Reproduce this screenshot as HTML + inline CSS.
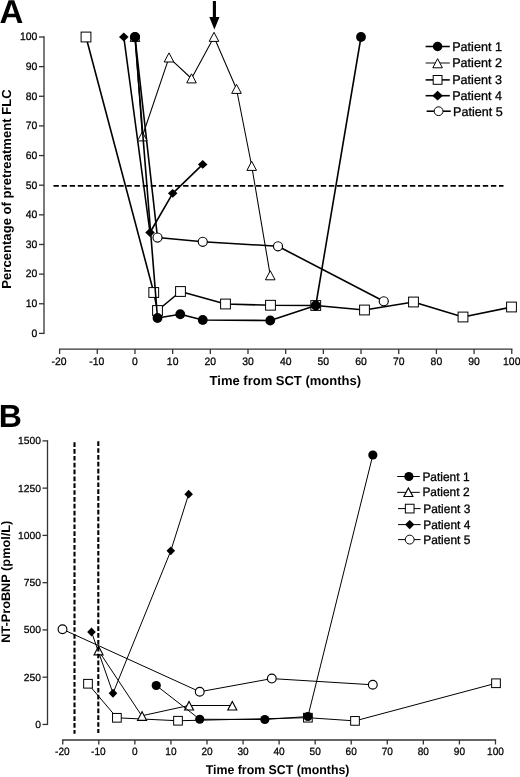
<!DOCTYPE html>
<html><head><meta charset="utf-8"><title>Figure</title>
<style>
html,body{margin:0;padding:0;background:#fff;}
body{width:520px;height:777px;overflow:hidden;font-family:"Liberation Sans",sans-serif;}
svg{display:block;position:absolute;left:0;top:0;will-change:transform;}
text{text-rendering:geometricPrecision;}
text{font-family:"Liberation Sans",sans-serif;fill:#000;}
.tk{font-size:10.4px;stroke:#000;stroke-width:0.25px;}
.lg{font-size:12.6px;stroke:#000;stroke-width:0.3px;}
.lgb{font-size:11.95px;stroke:#000;stroke-width:0.3px;}
.al{font-size:13.1px;font-weight:bold;}
.alb{font-size:12.35px;font-weight:bold;}
.pl{font-size:32px;font-weight:bold;}
</style></head><body>
<svg width="520" height="777" viewBox="0 0 520 777">
<rect width="520" height="777" fill="#fff"/>
<text class="pl" style="font-size:33px" x="-0.5" y="22.7">A</text>
<g stroke="#333" stroke-width="1.3" fill="none">
<path d="M44.0 36.35V334.04999999999995"/>
<path d="M39.0 333.40H44.0"/>
<path d="M39.0 303.76H44.0"/>
<path d="M39.0 274.12H44.0"/>
<path d="M39.0 244.48H44.0"/>
<path d="M39.0 214.84H44.0"/>
<path d="M39.0 185.20H44.0"/>
<path d="M39.0 155.56H44.0"/>
<path d="M39.0 125.92H44.0"/>
<path d="M39.0 96.28H44.0"/>
<path d="M39.0 66.64H44.0"/>
<path d="M39.0 37.00H44.0"/>
<path d="M58.95 349.1H512.41"/>
<path d="M59.60 349.1V354.0"/>
<path d="M97.28 349.1V354.0"/>
<path d="M134.96 349.1V354.0"/>
<path d="M172.64 349.1V354.0"/>
<path d="M210.32 349.1V354.0"/>
<path d="M248.00 349.1V354.0"/>
<path d="M285.68 349.1V354.0"/>
<path d="M323.36 349.1V354.0"/>
<path d="M361.04 349.1V354.0"/>
<path d="M398.72 349.1V354.0"/>
<path d="M436.40 349.1V354.0"/>
<path d="M474.08 349.1V354.0"/>
<path d="M511.76 349.1V354.0"/>
</g>
<text class="tk" transform="translate(37.3 336.75) scale(1 1.04)" text-anchor="end">0</text>
<text class="tk" transform="translate(37.3 307.11) scale(1 1.04)" text-anchor="end">10</text>
<text class="tk" transform="translate(37.3 277.47) scale(1 1.04)" text-anchor="end">20</text>
<text class="tk" transform="translate(37.3 247.83) scale(1 1.04)" text-anchor="end">30</text>
<text class="tk" transform="translate(37.3 218.19) scale(1 1.04)" text-anchor="end">40</text>
<text class="tk" transform="translate(37.3 188.55) scale(1 1.04)" text-anchor="end">50</text>
<text class="tk" transform="translate(37.3 158.91) scale(1 1.04)" text-anchor="end">60</text>
<text class="tk" transform="translate(37.3 129.27) scale(1 1.04)" text-anchor="end">70</text>
<text class="tk" transform="translate(37.3 99.63) scale(1 1.04)" text-anchor="end">80</text>
<text class="tk" transform="translate(37.3 69.99) scale(1 1.04)" text-anchor="end">90</text>
<text class="tk" transform="translate(37.3 40.35) scale(1 1.04)" text-anchor="end">100</text>
<text class="tk" transform="translate(59.10 365.3) scale(1 1.04)" text-anchor="middle">-20</text>
<text class="tk" transform="translate(96.78 365.3) scale(1 1.04)" text-anchor="middle">-10</text>
<text class="tk" transform="translate(134.96 365.3) scale(1 1.04)" text-anchor="middle">0</text>
<text class="tk" transform="translate(172.64 365.3) scale(1 1.04)" text-anchor="middle">10</text>
<text class="tk" transform="translate(210.32 365.3) scale(1 1.04)" text-anchor="middle">20</text>
<text class="tk" transform="translate(248.00 365.3) scale(1 1.04)" text-anchor="middle">30</text>
<text class="tk" transform="translate(285.68 365.3) scale(1 1.04)" text-anchor="middle">40</text>
<text class="tk" transform="translate(323.36 365.3) scale(1 1.04)" text-anchor="middle">50</text>
<text class="tk" transform="translate(361.04 365.3) scale(1 1.04)" text-anchor="middle">60</text>
<text class="tk" transform="translate(398.72 365.3) scale(1 1.04)" text-anchor="middle">70</text>
<text class="tk" transform="translate(436.40 365.3) scale(1 1.04)" text-anchor="middle">80</text>
<text class="tk" transform="translate(474.08 365.3) scale(1 1.04)" text-anchor="middle">90</text>
<text class="tk" transform="translate(511.76 365.3) scale(1 1.04)" text-anchor="middle">100</text>
<text class="al" transform="translate(11.1 189) rotate(-90)" text-anchor="middle">Percentage of pretreatment FLC</text>
<text class="al" style="font-size:13px" x="209.6" y="384.7">Time from SCT (months)</text>
<path d="M53.5 185.8H503.5" stroke="#000" stroke-width="1.7" stroke-dasharray="5.4 2.7" fill="none"/>
<path d="M212.85 1H215.95V17H219.5L214.4 29.4L209.3 17H212.85Z" fill="#000"/>
<polyline points="135,37 157.5,237.5 202.75,241.75 278,246.25 383.75,301.25" fill="none" stroke="#000" stroke-width="1.6" stroke-linejoin="round"/>
<circle cx="135" cy="37" r="4.55" fill="#fff" stroke="#000" stroke-width="1.15"/>
<circle cx="157.5" cy="237.5" r="4.55" fill="#fff" stroke="#000" stroke-width="1.15"/>
<circle cx="202.75" cy="241.75" r="4.55" fill="#fff" stroke="#000" stroke-width="1.15"/>
<circle cx="278" cy="246.25" r="4.55" fill="#fff" stroke="#000" stroke-width="1.15"/>
<circle cx="383.75" cy="301.25" r="4.55" fill="#fff" stroke="#000" stroke-width="1.15"/>
<polyline points="123.8,37 150,232.5 172.7,193.3 202.7,164.4" fill="none" stroke="#000" stroke-width="1.6" stroke-linejoin="round"/>
<path d="M119.00 37L123.8 32.60L128.60 37L123.8 41.40Z" fill="#000"/>
<path d="M145.20 232.5L150 228.10L154.80 232.5L150 236.90Z" fill="#000"/>
<path d="M167.90 193.3L172.7 188.90L177.50 193.3L172.7 197.70Z" fill="#000"/>
<path d="M197.90 164.4L202.7 160.00L207.50 164.4L202.7 168.80Z" fill="#000"/>
<polyline points="86,37 153.75,292.5 157.5,310.5 180.5,291.5 225.5,304 270.5,305.25 315.75,305.5 364.5,310 413.5,302 463,317 511.5,307" fill="none" stroke="#000" stroke-width="1.6" stroke-linejoin="round"/>
<rect x="81.10" y="32.10" width="9.80" height="9.80" fill="#fff" stroke="#000" stroke-width="1.0"/>
<rect x="148.85" y="287.60" width="9.80" height="9.80" fill="#fff" stroke="#000" stroke-width="1.0"/>
<rect x="152.60" y="305.60" width="9.80" height="9.80" fill="#fff" stroke="#000" stroke-width="1.0"/>
<rect x="175.60" y="286.60" width="9.80" height="9.80" fill="#fff" stroke="#000" stroke-width="1.0"/>
<rect x="220.60" y="299.10" width="9.80" height="9.80" fill="#fff" stroke="#000" stroke-width="1.0"/>
<rect x="265.60" y="300.35" width="9.80" height="9.80" fill="#fff" stroke="#000" stroke-width="1.0"/>
<rect x="310.85" y="300.60" width="9.80" height="9.80" fill="#fff" stroke="#000" stroke-width="1.0"/>
<rect x="359.60" y="305.10" width="9.80" height="9.80" fill="#fff" stroke="#000" stroke-width="1.0"/>
<rect x="408.60" y="297.10" width="9.80" height="9.80" fill="#fff" stroke="#000" stroke-width="1.0"/>
<rect x="458.10" y="312.10" width="9.80" height="9.80" fill="#fff" stroke="#000" stroke-width="1.0"/>
<rect x="506.60" y="302.10" width="9.80" height="9.80" fill="#fff" stroke="#000" stroke-width="1.0"/>
<polyline points="135,37 142.3,136.5 169,57.6 191.5,78.5 214,37 236.5,89 251.7,166 270.25,275.4" fill="none" stroke="#000" stroke-width="1.05" stroke-linejoin="round"/>
<path d="M135 32.30L139.80 41.40L130.20 41.40Z" fill="#fff" stroke="#000" stroke-width="1.0"/>
<path d="M142.3 131.80L147.10 140.90L137.50 140.90Z" fill="#fff" stroke="#000" stroke-width="1.0"/>
<path d="M169 52.90L173.80 62.00L164.20 62.00Z" fill="#fff" stroke="#000" stroke-width="1.0"/>
<path d="M191.5 73.80L196.30 82.90L186.70 82.90Z" fill="#fff" stroke="#000" stroke-width="1.0"/>
<path d="M214 32.30L218.80 41.40L209.20 41.40Z" fill="#fff" stroke="#000" stroke-width="1.0"/>
<path d="M236.5 84.30L241.30 93.40L231.70 93.40Z" fill="#fff" stroke="#000" stroke-width="1.0"/>
<path d="M251.7 161.30L256.50 170.40L246.90 170.40Z" fill="#fff" stroke="#000" stroke-width="1.0"/>
<path d="M270.25 270.70L275.05 279.80L265.45 279.80Z" fill="#fff" stroke="#000" stroke-width="1.0"/>
<polyline points="135,37 157.5,318 180.25,314.25 202.75,320 270.25,320.5 315.75,305.5 361,37" fill="none" stroke="#000" stroke-width="1.6" stroke-linejoin="round"/>
<circle cx="135" cy="37" r="4.90" fill="#000"/>
<circle cx="157.5" cy="318" r="4.90" fill="#000"/>
<circle cx="180.25" cy="314.25" r="4.90" fill="#000"/>
<circle cx="202.75" cy="320" r="4.90" fill="#000"/>
<circle cx="270.25" cy="320.5" r="4.90" fill="#000"/>
<circle cx="315.75" cy="305.5" r="4.90" fill="#000"/>
<circle cx="361" cy="37" r="4.90" fill="#000"/>
<path d="M425.6 46.5H449.8" stroke="#000" stroke-width="1.55"/>
<circle cx="437.6" cy="46.5" r="4.75" fill="#000"/>
<text class="lg" x="452.2" y="50.90">Patient 1</text>
<path d="M425.6 63.0H449.8" stroke="#000" stroke-width="0.95"/>
<path d="M437.6 58.70L442.40 67.80L432.80 67.80Z" fill="#fff" stroke="#000" stroke-width="1.0"/>
<text class="lg" x="452.2" y="67.40">Patient 2</text>
<path d="M425.6 79.9H449.8" stroke="#000" stroke-width="1.55"/>
<rect x="433.19" y="75.49" width="8.82" height="8.82" fill="#fff" stroke="#000" stroke-width="1.0"/>
<text class="lg" x="452.2" y="84.30">Patient 3</text>
<path d="M425.6 95.7H449.8" stroke="#000" stroke-width="1.55"/>
<path d="M432.32 95.7L437.6 90.86L442.88 95.7L437.6 100.54Z" fill="#000"/>
<text class="lg" x="452.2" y="100.10">Patient 4</text>
<path d="M426.6 111.2H450.8" stroke="#000" stroke-width="1.55"/>
<circle cx="438.6" cy="111.2" r="4.41" fill="#fff" stroke="#000" stroke-width="1.0"/>
<text class="lg" x="453.0" y="115.60">Patient 5</text>
<text class="pl" x="-1.2" y="427.1">B</text>
<g stroke="#333" stroke-width="1.3" fill="none">
<path d="M47.5 440.2250000000001V725.1"/>
<path d="M42.5 724.45H47.5"/>
<path d="M42.5 677.19H47.5"/>
<path d="M42.5 629.93H47.5"/>
<path d="M42.5 582.66H47.5"/>
<path d="M42.5 535.40H47.5"/>
<path d="M42.5 488.14H47.5"/>
<path d="M42.5 440.88H47.5"/>
<path d="M62.1 740H496.11999999999995"/>
<path d="M62.75 740V744.5"/>
<path d="M98.81 740V744.5"/>
<path d="M134.87 740V744.5"/>
<path d="M170.93 740V744.5"/>
<path d="M206.99 740V744.5"/>
<path d="M243.05 740V744.5"/>
<path d="M279.11 740V744.5"/>
<path d="M315.17 740V744.5"/>
<path d="M351.23 740V744.5"/>
<path d="M387.29 740V744.5"/>
<path d="M423.35 740V744.5"/>
<path d="M459.41 740V744.5"/>
<path d="M495.47 740V744.5"/>
</g>
<text class="tk" transform="translate(41.0 728.00)" style="font-size:10.3px" text-anchor="end">0</text>
<text class="tk" transform="translate(41.0 680.74)" style="font-size:10.3px" text-anchor="end">250</text>
<text class="tk" transform="translate(41.0 633.48)" style="font-size:10.3px" text-anchor="end">500</text>
<text class="tk" transform="translate(41.0 586.21)" style="font-size:10.3px" text-anchor="end">750</text>
<text class="tk" transform="translate(41.0 538.95)" style="font-size:10.3px" text-anchor="end">1000</text>
<text class="tk" transform="translate(41.0 491.69)" style="font-size:10.3px" text-anchor="end">1250</text>
<text class="tk" transform="translate(41.0 444.43)" style="font-size:10.3px" text-anchor="end">1500</text>
<text class="tk" transform="translate(62.35 755.3) scale(0.97 1.02)" text-anchor="middle">-20</text>
<text class="tk" transform="translate(98.41 755.3) scale(0.97 1.02)" text-anchor="middle">-10</text>
<text class="tk" transform="translate(134.87 755.3) scale(0.97 1.02)" text-anchor="middle">0</text>
<text class="tk" transform="translate(170.93 755.3) scale(0.97 1.02)" text-anchor="middle">10</text>
<text class="tk" transform="translate(206.99 755.3) scale(0.97 1.02)" text-anchor="middle">20</text>
<text class="tk" transform="translate(243.05 755.3) scale(0.97 1.02)" text-anchor="middle">30</text>
<text class="tk" transform="translate(279.11 755.3) scale(0.97 1.02)" text-anchor="middle">40</text>
<text class="tk" transform="translate(315.17 755.3) scale(0.97 1.02)" text-anchor="middle">50</text>
<text class="tk" transform="translate(351.23 755.3) scale(0.97 1.02)" text-anchor="middle">60</text>
<text class="tk" transform="translate(387.29 755.3) scale(0.97 1.02)" text-anchor="middle">70</text>
<text class="tk" transform="translate(423.35 755.3) scale(0.97 1.02)" text-anchor="middle">80</text>
<text class="tk" transform="translate(459.41 755.3) scale(0.97 1.02)" text-anchor="middle">90</text>
<text class="tk" transform="translate(495.47 755.3) scale(0.97 1.02)" text-anchor="middle">100</text>
<text class="alb" transform="translate(9.6 581.75) rotate(-90) scale(1.032 1)" text-anchor="middle">NT-ProBNP (pmol/L)</text>
<text class="alb" transform="translate(205.7 773.6) scale(1 1.032)">Time from SCT (months)</text>
<polyline points="62.5,629.25 199.75,691.75 271.8,678.6 372.8,684.8" fill="none" stroke="#000" stroke-width="1.0" stroke-linejoin="round"/>
<circle cx="62.5" cy="629.25" r="4.40" fill="#fff" stroke="#000" stroke-width="1.15"/>
<circle cx="199.75" cy="691.75" r="4.40" fill="#fff" stroke="#000" stroke-width="1.15"/>
<circle cx="271.8" cy="678.6" r="4.40" fill="#fff" stroke="#000" stroke-width="1.15"/>
<circle cx="372.8" cy="684.8" r="4.40" fill="#fff" stroke="#000" stroke-width="1.15"/>
<polyline points="91.5,632 113,693.25 170.8,550.8 188.65,494.2" fill="none" stroke="#000" stroke-width="1.0" stroke-linejoin="round"/>
<path d="M87.20 632L91.5 627.60L95.80 632L91.5 636.40Z" fill="#000"/>
<path d="M108.70 693.25L113 688.85L117.30 693.25L113 697.65Z" fill="#000"/>
<path d="M166.50 550.8L170.8 546.40L175.10 550.8L170.8 555.20Z" fill="#000"/>
<path d="M184.35 494.2L188.65 489.80L192.95 494.2L188.65 498.60Z" fill="#000"/>
<polyline points="88,683.75 116.9,717.8 178,720.75 307.9,717.7 355,720.9 496,683.25" fill="none" stroke="#000" stroke-width="1.0" stroke-linejoin="round"/>
<rect x="83.65" y="679.40" width="8.70" height="8.70" fill="#fff" stroke="#000" stroke-width="1.0"/>
<rect x="112.55" y="713.45" width="8.70" height="8.70" fill="#fff" stroke="#000" stroke-width="1.0"/>
<rect x="173.65" y="716.40" width="8.70" height="8.70" fill="#fff" stroke="#000" stroke-width="1.0"/>
<rect x="303.55" y="713.35" width="8.70" height="8.70" fill="#fff" stroke="#000" stroke-width="1.0"/>
<rect x="350.65" y="716.55" width="8.70" height="8.70" fill="#fff" stroke="#000" stroke-width="1.0"/>
<rect x="491.65" y="678.90" width="8.70" height="8.70" fill="#fff" stroke="#000" stroke-width="1.0"/>
<polyline points="98.25,650.3 141.75,715.8 188.75,705.5 232,705.5" fill="none" stroke="#000" stroke-width="1.0" stroke-linejoin="round"/>
<path d="M98.55 646.20L103.05 654.80L94.05 654.80Z" fill="#fff" stroke="#000" stroke-width="1.15"/>
<path d="M142.05 711.70L146.55 720.30L137.55 720.30Z" fill="#fff" stroke="#000" stroke-width="1.15"/>
<path d="M189.05 701.40L193.55 710.00L184.55 710.00Z" fill="#fff" stroke="#000" stroke-width="1.15"/>
<path d="M232.3 701.40L236.80 710.00L227.80 710.00Z" fill="#fff" stroke="#000" stroke-width="1.15"/>
<polyline points="156.25,685.5 199.75,719.25 264.8,719.5 307.9,716.5 372.85,455" fill="none" stroke="#000" stroke-width="1.0" stroke-linejoin="round"/>
<circle cx="156.25" cy="685.5" r="4.60" fill="#000"/>
<circle cx="199.75" cy="719.25" r="4.60" fill="#000"/>
<circle cx="264.8" cy="719.5" r="4.60" fill="#000"/>
<circle cx="307.9" cy="716.5" r="4.60" fill="#000"/>
<circle cx="372.85" cy="455" r="4.60" fill="#000"/>
<path d="M74.5 442.2V733.8" stroke="#000" stroke-width="2.1" stroke-dasharray="4.7 2.15" fill="none"/>
<path d="M98.3 441.3V732.9" stroke="#000" stroke-width="2.1" stroke-dasharray="4.7 2.15" fill="none"/>
<path d="M397.2 476.5H419.8" stroke="#000" stroke-width="1"/>
<circle cx="408.9" cy="476.5" r="4.60" fill="#000"/>
<text class="lgb" transform="translate(422.4 480.85) scale(1 1.03)">Patient 1</text>
<path d="M397.2 492.35H419.8" stroke="#000" stroke-width="1"/>
<path d="M408.4 487.90L412.90 496.50L403.90 496.50Z" fill="#fff" stroke="#000" stroke-width="1.15"/>
<text class="lgb" transform="translate(422.4 496.45) scale(1 1.03)">Patient 2</text>
<path d="M398.0 508.6H420.6" stroke="#000" stroke-width="1"/>
<rect x="405.35" y="504.25" width="8.70" height="8.70" fill="#fff" stroke="#000" stroke-width="1.0"/>
<text class="lgb" transform="translate(423.2 512.95) scale(1 1.03)">Patient 3</text>
<path d="M398.0 524.6H420.6" stroke="#000" stroke-width="1"/>
<path d="M405.00 524.6L409.7 519.90L414.40 524.6L409.7 529.30Z" fill="#000"/>
<text class="lgb" transform="translate(423.2 528.95) scale(1 1.03)">Patient 4</text>
<path d="M398.0 539.6H420.6" stroke="#000" stroke-width="1"/>
<circle cx="409.7" cy="539.6" r="4.45" fill="#fff" stroke="#000" stroke-width="1"/>
<text class="lgb" transform="translate(423.2 544.05) scale(1 1.03)">Patient 5</text>
</svg>
</body></html>
